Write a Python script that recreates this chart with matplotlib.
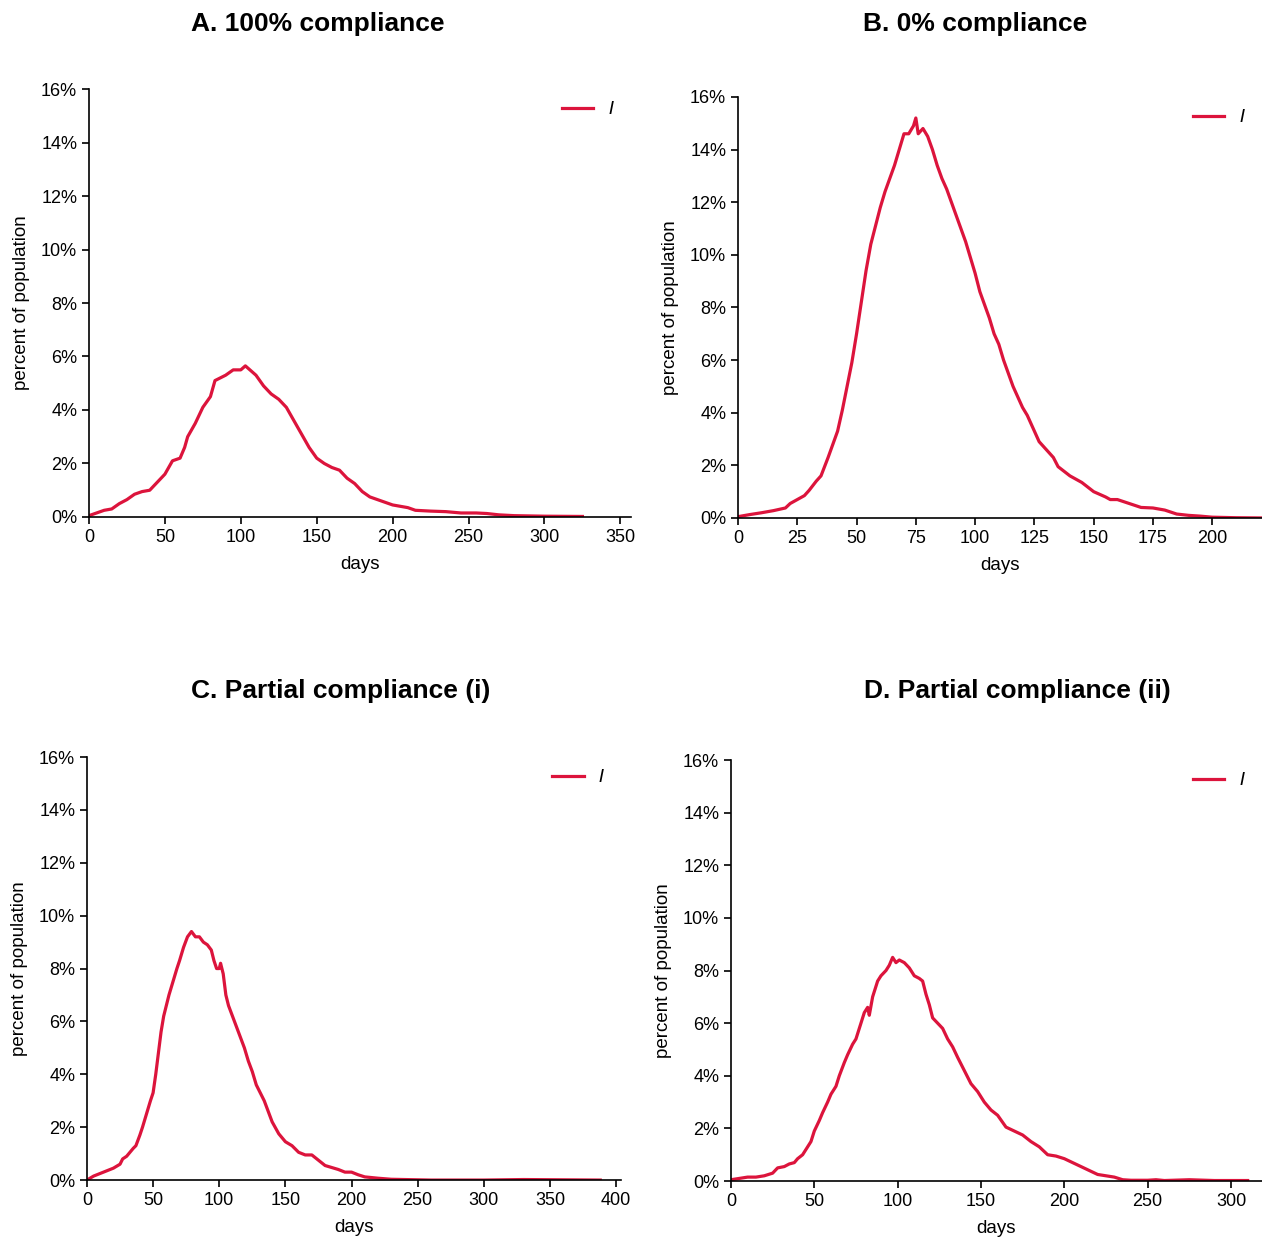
import matplotlib
matplotlib.use("Agg")
import matplotlib.pyplot as plt
from matplotlib.ticker import PercentFormatter

plt.rcParams['font.family'] = ['Liberation Sans', 'DejaVu Sans']

# ------------------------------------------------------------
# data (days, percent infected)
# ------------------------------------------------------------
days_a = [0, 5, 10, 15, 20, 25, 30, 35, 40, 45, 50, 55, 60, 63, 65, 70, 75, 80, 83,
          90, 95, 100, 103, 110, 115, 120, 125, 130, 135, 140, 145, 150, 155, 160,
          165, 170, 175, 180, 185, 190, 195, 200, 205, 210, 215, 225, 235, 245, 255,
          262, 270, 280, 300, 325]
inf_a = [0.05, 0.15, 0.25, 0.3, 0.5, 0.65, 0.85, 0.95, 1.0, 1.3, 1.6, 2.1, 2.2, 2.6,
         3.0, 3.5, 4.1, 4.5, 5.1, 5.3, 5.5, 5.5, 5.65, 5.3, 4.9, 4.6, 4.4, 4.1, 3.6,
         3.1, 2.6, 2.2, 2.0, 1.85, 1.75, 1.45, 1.25, 0.95, 0.75, 0.65, 0.55, 0.45,
         0.4, 0.35, 0.25, 0.22, 0.2, 0.15, 0.15, 0.13, 0.08, 0.05, 0.03, 0.02]

days_b = [0, 5, 10, 15, 20, 22, 25, 28, 30, 33, 35, 38, 40, 42, 44, 46, 48, 50, 52,
          54, 56, 58, 60, 62, 64, 66, 68, 70, 72, 74, 75, 76, 78, 80, 82, 84, 86, 88,
          90, 92, 94, 96, 98, 100, 102, 104, 106, 108, 110, 112, 114, 116, 118, 120,
          122, 125, 127, 130, 133, 135, 140, 145, 150, 155, 157, 160, 165, 170, 175,
          180, 185, 190, 195, 200, 210, 222]
inf_b = [0.05, 0.13, 0.2, 0.28, 0.38, 0.55, 0.7, 0.85, 1.05, 1.4, 1.6, 2.3, 2.8, 3.3,
         4.1, 5.0, 5.9, 7.0, 8.2, 9.4, 10.4, 11.1, 11.8, 12.4, 12.9, 13.4, 14.0, 14.6,
         14.6, 14.9, 15.2, 14.6, 14.8, 14.5, 14.0, 13.4, 12.9, 12.5, 12.0, 11.5, 11.0,
         10.5, 9.9, 9.3, 8.6, 8.1, 7.6, 7.0, 6.6, 6.0, 5.5, 5.0, 4.6, 4.2, 3.9, 3.3,
         2.9, 2.6, 2.3, 1.95, 1.6, 1.35, 1.0, 0.8, 0.7, 0.7, 0.55, 0.4, 0.38, 0.3,
         0.15, 0.1, 0.07, 0.03, 0.01, 0.0]

days_c = [0, 5, 10, 15, 20, 25, 27, 30, 35, 37, 40, 42, 45, 48, 50, 52, 54, 56, 58,
          60, 62, 65, 68, 70, 73, 76, 79, 82, 85, 88, 91, 94, 96, 98, 100, 101, 103,
          105, 107, 110, 113, 116, 119, 122, 125, 128, 131, 134, 137, 140, 145, 150,
          155, 160, 165, 170, 175, 180, 190, 195, 200, 205, 210, 220, 230, 240, 260,
          300, 330, 388]
inf_c = [0.0, 0.15, 0.25, 0.35, 0.45, 0.6, 0.8, 0.9, 1.2, 1.3, 1.7, 2.0, 2.5, 3.0,
         3.3, 4.0, 4.8, 5.6, 6.2, 6.6, 7.0, 7.5, 8.0, 8.3, 8.8, 9.2, 9.4, 9.2, 9.2,
         9.0, 8.9, 8.7, 8.3, 8.0, 8.0, 8.2, 7.8, 7.0, 6.6, 6.2, 5.8, 5.4, 5.0, 4.5,
         4.1, 3.6, 3.3, 3.0, 2.6, 2.2, 1.75, 1.45, 1.3, 1.05, 0.95, 0.95, 0.75, 0.55,
         0.4, 0.3, 0.3, 0.2, 0.12, 0.07, 0.03, 0.02, 0.0, 0.0, 0.02, 0.0]

days_d = [0, 5, 10, 15, 20, 25, 28, 32, 35, 38, 40, 43, 45, 48, 50, 53, 55, 58, 60,
          63, 65, 68, 70, 73, 75, 78, 80, 82, 83, 85, 88, 90, 93, 95, 97, 99, 101,
          104, 107, 110, 113, 115, 117, 119, 121, 124, 127, 130, 133, 136, 140, 144,
          148, 152, 156, 160, 165, 170, 175, 180, 185, 190, 195, 200, 205, 210, 215,
          220, 225, 230, 235, 240, 250, 255, 260, 275, 290, 310]
inf_d = [0.05, 0.1, 0.15, 0.15, 0.2, 0.3, 0.5, 0.55, 0.65, 0.7, 0.85, 1.0, 1.2, 1.5,
         1.9, 2.3, 2.6, 3.0, 3.3, 3.6, 4.0, 4.5, 4.8, 5.2, 5.4, 6.0, 6.4, 6.6, 6.3,
         7.0, 7.6, 7.8, 8.0, 8.2, 8.5, 8.3, 8.4, 8.3, 8.1, 7.8, 7.7, 7.6, 7.1, 6.7,
         6.2, 6.0, 5.8, 5.4, 5.1, 4.7, 4.2, 3.7, 3.4, 3.0, 2.7, 2.5, 2.05, 1.9, 1.75,
         1.5, 1.3, 1.0, 0.95, 0.85, 0.7, 0.55, 0.4, 0.25, 0.2, 0.15, 0.05, 0.03, 0.03,
         0.05, 0.02, 0.05, 0.02, 0.02]

titles = ['A. 100% compliance', 'B. 0% compliance',
          'C. Partial compliance (i)', 'D. Partial compliance (ii)']
xlims = [357, 221, 404, 318.6]
xticks = [range(0, 351, 50), range(0, 201, 25), range(0, 401, 50), range(0, 301, 50)]

rects = [[0.0705, 0.5824, 0.4295, 0.3457],
         [0.5848, 0.5816, 0.4152, 0.3401],
         [0.0689, 0.0468, 0.4235, 0.3417],
         [0.5792, 0.0460, 0.4208, 0.3401]]
title_pos = [(0.252, 0.9806), (0.7726, 0.9806), (0.270, 0.4418), (0.806, 0.4418)]

RED = '#dc143c'

fig = plt.figure(figsize=(12.62, 12.38), dpi=100)

series = [(days_a, inf_a), (days_b, inf_b), (days_c, inf_c), (days_d, inf_d)]
for i, (x, y) in enumerate(series):
    ax = fig.add_axes(rects[i])
    ax.plot(x, y, color=RED, lw=2.3, label='$I$')
    ax.set_xlim(0, xlims[i])
    ax.set_ylim(0, 16)
    ax.set_xticks(list(xticks[i]))
    ax.set_yticks(range(0, 17, 2))
    ax.yaxis.set_major_formatter(PercentFormatter(decimals=0))
    ax.tick_params(labelsize=13, length=5, width=1.2)
    for s in ['top', 'right']:
        ax.spines[s].set_visible(False)
    for s in ['left', 'bottom']:
        ax.spines[s].set_linewidth(1.2)
    ax.set_xlabel('days', fontsize=13.5, labelpad=7)
    ax.set_ylabel('percent of population', fontsize=13.5, labelpad=8)
    ax.legend(loc='upper right', frameon=False, fontsize=13, handlelength=1.75,
              bbox_to_anchor=(1.0, 1.01))
    fig.text(title_pos[i][0], title_pos[i][1], titles[i], fontsize=19,
             fontweight='bold', ha='center', va='center')

fig.savefig('out.png', dpi=100)
